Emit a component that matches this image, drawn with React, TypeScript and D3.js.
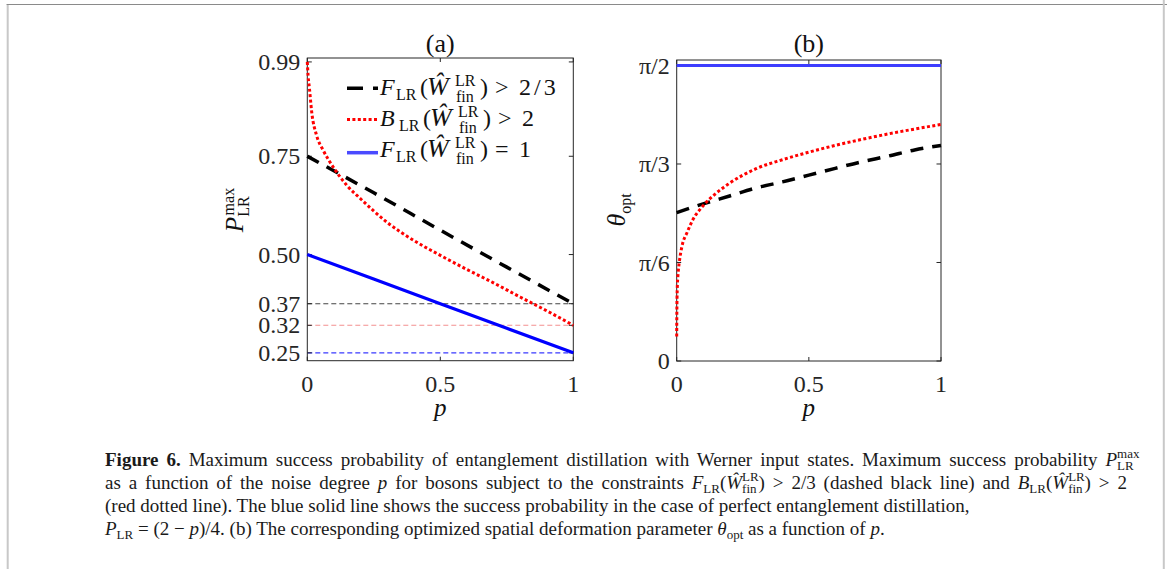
import React, { useEffect, useRef } from "react";
import * as d3 from "d3";

// ---------- data ----------
// Panel (a): maximum success probability vs p
const pBlackA = [0, 0.25, 0.5, 0.75, 1];
const fidelityA = [0.75, 0.657, 0.562, 0.468, 0.375];

const pRedA = [0, 0.003, 0.008, 0.0165, 0.035, 0.06, 0.1, 0.15, 0.2, 0.3, 0.4, 0.5, 0.6, 0.7, 0.8, 0.9, 1];
const bellA = [0.99, 0.955, 0.923, 0.863, 0.803, 0.765, 0.72, 0.675, 0.642, 0.582, 0.536, 0.498, 0.462, 0.428, 0.392, 0.357, 0.32];

const pBlueA = [0, 0.5, 1];
const perfectA = [0.5, 0.375, 0.25];

// Panel (b): optimal deformation angle vs p
const pBlackB = [0, 0.1, 0.2, 0.3, 0.4, 0.5, 0.6, 0.7, 0.8, 0.9, 1];
const fidelityB = [0.789, 0.835, 0.877, 0.92, 0.952, 0.988, 1.024, 1.059, 1.089, 1.122, 1.146];

const pRedB = [0, 0.0005, 0.002, 0.005, 0.01, 0.02, 0.04, 0.06, 0.1, 0.15, 0.2, 0.3, 0.4, 0.5, 0.6, 0.7, 0.8, 0.9, 1];
const bellB = [0.13, 0.25, 0.38, 0.46, 0.527, 0.61, 0.685, 0.748, 0.825, 0.893, 0.945, 1.022, 1.07, 1.11, 1.146, 1.178, 1.207, 1.233, 1.257];

const pBlueB = [0, 1];
const perfectB = [Math.PI / 2, Math.PI / 2];

// ticks
const xTicks = [0, 0.5, 1];
const xTickLabels = ["0", "0.5", "1"];
const yTicksA = [0.25, 0.32, 0.375, 0.5, 0.75, 0.99];
const yTickLabelsA = ["0.25", "0.32", "0.37", "0.50", "0.75", "0.99"];
const yTicksB = [0, Math.PI / 6, Math.PI / 3, Math.PI / 2];
const yTickLabelsB = ["0", "π/6", "π/3", "π/2"];
const refLevelsA = [0.375, 0.32, 0.25];
const refColorsA = ["#444444", "#f39090", "#3a3aff"];

const FONT = "'Liberation Serif', 'Times New Roman', serif";
const AX = "#262626";

const BLACK_DASH = "13,9";
const RED_DOT = "3,2.4";

export default function App() {
  const svgRef = useRef<SVGSVGElement>(null);

  const xA = d3.scaleLinear().domain([0, 1]).range([307.3, 573.3]);
  const yA = d3.scaleLinear().domain([0.23, 1.0]).range([360.7, 58]);
  const xB = d3.scaleLinear().domain([0, 1]).range([676.7, 941]);
  const yB = d3.scaleLinear().domain([0, 1.6]).range([361, 60]);

  const mk = (xs: number[], ys: number[], sx: any, sy: any) =>
    d3
      .line<number>()
      .x((_, i) => sx(xs[i]))
      .y((d) => sy(d))
      .curve(d3.curveMonotoneX)(ys) || "";

  useEffect(() => {
    if (!svgRef.current) return;
    d3.select(svgRef.current)
      .selectAll<SVGTextElement, unknown>("text[data-j]")
      .each(function () {
        const target = +(this.getAttribute("data-j") || 0);
        const bb = this.getBBox();
        const n = ((this.textContent || "").match(/ /g) || []).length;
        if (n > 0) {
          const ws = (target - (bb.x + bb.width)) / n;
          this.setAttribute("word-spacing", String(ws));
        }
      });
  }, []);

  const axesBox = (sx: any, sy: any, yTicks: number[], yLabels: string[]) => {
    const [x0, x1] = sx.range();
    const [y0, y1] = sy.range();
    return (
      <g>
        <rect x={x0} y={y1} width={x1 - x0} height={y0 - y1} fill="none" stroke={AX} strokeWidth={1} />
        {xTicks.map((t, i) => (
          <g key={"xt" + i}>
            <line x1={sx(t)} x2={sx(t)} y1={y0} y2={y0 - 4} stroke={AX} />
            <line x1={sx(t)} x2={sx(t)} y1={y1} y2={y1 + 4} stroke={AX} />
            <text x={sx(t)} y={392} textAnchor="middle" fontSize={24} fill={AX} fontFamily={FONT}>
              {xTickLabels[i]}
            </text>
          </g>
        ))}
        {yTicks.map((t, i) => (
          <g key={"yt" + i}>
            <line x1={x0} x2={x0 + 4.5} y1={sy(t)} y2={sy(t)} stroke={AX} />
            <line x1={x1} x2={x1 - 4.5} y1={sy(t)} y2={sy(t)} stroke={AX} />
            <text
              x={x0 - 7}
              y={sy(t)}
              dy="0.34em"
              textAnchor="end"
              fontSize={24}
              fill={AX}
              fontFamily={FONT}
            >
              {yLabels[i]}
            </text>
          </g>
        ))}
      </g>
    );
  };

  const sup = 16;
  const supFor = (x: number, base: number) => (
    <>
      <tspan x={x} y={base - 9} fontSize={sup}>LR</tspan>
      <tspan x={x + 1} y={base + 7} fontSize={sup}>fin</tspan>
    </>
  );

  const legendRows = [95, 126, 157];

  const legendRow = (base: number, letter: string, shift: number, rel: string, rhs: string) => (
    <text y={base} fontSize={24} fill="#111">
      <tspan x={380} fontStyle="italic">{letter}</tspan>
      <tspan x={396 + shift} y={base + 5} fontSize={sup}>LR</tspan>
      <tspan x={420 + shift} y={base}>(</tspan>
      <tspan x={427 + shift} fontStyle="italic" fontSize={26}>Ŵ</tspan>
      {supFor(455 + shift, base)}
      <tspan x={480 + shift} y={base}>)</tspan>
      <tspan x={495 + shift}>{rel}</tspan>
      <tspan x={519 + shift} letterSpacing={rhs.length > 1 ? 3 : 0}>{rhs}</tspan>
    </text>
  );

  return (
    <svg
      ref={svgRef}
      width={1167}
      height={569}
      style={{ position: "absolute", left: 0, top: 0, background: "#fff" }}
      fontFamily={FONT}
    >
      <rect x={0} y={0} width={1167} height={569} fill="#fff" />
      {/* figure frame */}
      <line x1={6.5} x2={1167} y1={4.5} y2={4.5} stroke="#8a8a8a" strokeWidth={1} />
      <line x1={7.7} x2={7.7} y1={5} y2={569} stroke="#c8c8c8" strokeWidth={2} />
      <line x1={1163.8} x2={1163.8} y1={0} y2={569} stroke="#c8c8c8" strokeWidth={2} />

      {/* ---------- panel (a) ---------- */}
      <text x={xA(0.5)} y={52} textAnchor="middle" fontSize={26} fill="#111">(a)</text>
      {refLevelsA.map((v, i) => (
        <line
          key={"ref" + i}
          x1={xA(0)}
          x2={xA(1)}
          y1={yA(v)}
          y2={yA(v)}
          stroke={refColorsA[i]}
          strokeWidth={1.1}
          strokeDasharray="5,3"
        />
      ))}
      {axesBox(xA, yA, yTicksA, yTickLabelsA)}
      <path d={mk(pBlueA, perfectA, xA, yA)} fill="none" stroke="#0000ff" strokeWidth={3.2} />
      <path d={mk(pBlackA, fidelityA, xA, yA)} fill="none" stroke="#000" strokeWidth={3.5} strokeDasharray={BLACK_DASH} />
      <path d={mk(pRedA, bellA, xA, yA)} fill="none" stroke="#ff0000" strokeWidth={3} strokeDasharray={RED_DOT} />

      {/* legend */}
      <line x1={347} x2={378} y1={88.3} y2={88.3} stroke="#000" strokeWidth={3.5} strokeDasharray="16,10" />
      <line x1={347} x2={378} y1={119.5} y2={119.5} stroke="#ff0000" strokeWidth={3} strokeDasharray={RED_DOT} />
      <line x1={347} x2={378} y1={152.7} y2={152.7} stroke="#4a4aff" strokeWidth={3.5} />
      {legendRow(legendRows[0], "F", 0, ">", "2/3")}
      {legendRow(legendRows[1], "B", 3, ">", "2")}
      {legendRow(legendRows[2], "F", 0, "=", "1")}

      {/* axis labels (a) */}
      <text transform="translate(243,210) rotate(-90)" textAnchor="middle" fontSize={25} fill="#111">
        <tspan fontStyle="italic">P</tspan>
        <tspan fontSize={sup} dy={6}>LR</tspan>
        <tspan fontSize={sup} dx={-19} dy={-15}>max</tspan>
      </text>
      <text x={xA(0.5)} y={416} textAnchor="middle" fontSize={25} fontStyle="italic" fill="#111">p</text>

      {/* ---------- panel (b) ---------- */}
      <text x={xB(0.5)} y={52} textAnchor="middle" fontSize={26} fill="#111">(b)</text>
      {axesBox(xB, yB, yTicksB, yTickLabelsB)}
      <path d={mk(pBlueB, perfectB, xB, yB)} fill="none" stroke="#3d3dff" strokeWidth={3.2} />
      <path d={mk(pBlackB, fidelityB, xB, yB)} fill="none" stroke="#000" strokeWidth={3.5} strokeDasharray={BLACK_DASH} />
      <path d={mk(pRedB, bellB, xB, yB)} fill="none" stroke="#ff0000" strokeWidth={3} strokeDasharray={RED_DOT} />

      <text transform="translate(625,210) rotate(-90)" textAnchor="middle" fontSize={26} fill="#111">
        <tspan fontStyle="italic">θ</tspan>
        <tspan fontSize={sup} dy={6}>opt</tspan>
      </text>
      <text x={xB(0.5)} y={416} textAnchor="middle" fontSize={25} fontStyle="italic" fill="#111">p</text>

      {/* ---------- caption ---------- */}
      <g fontSize={19} fill="#1a1a1a">
        <text x={105} y={466} data-j={1140}>
          <tspan fontWeight="bold">Figure 6.</tspan>
          <tspan>{" Maximum success probability of entanglement distillation with Werner input states. Maximum success probability "}</tspan>
          <tspan fontStyle="italic">P</tspan>
          <tspan fontSize={13} dy={-8}>max</tspan>
          <tspan fontSize={13} dx={-22.4} dy={12}>LR</tspan>
        </text>
        <text x={105} y={489} data-j={1127}>
          <tspan>{"as a function of the noise degree "}</tspan>
          <tspan fontStyle="italic">p</tspan>
          <tspan>{" for bosons subject to the constraints "}</tspan>
          <tspan fontStyle="italic">F</tspan>
          <tspan fontSize={13} dy={4}>LR</tspan>
          <tspan dy={-4}>(</tspan>
          <tspan fontStyle="italic">Ŵ</tspan>
          <tspan fontSize={13} dy={-8}>LR</tspan>
          <tspan fontSize={13} dx={-16.6} dy={12}>fin</tspan>
          <tspan dx={2} dy={-4}>{") > 2/3 (dashed black line) and "}</tspan>
          <tspan fontStyle="italic">B</tspan>
          <tspan fontSize={13} dy={4}>LR</tspan>
          <tspan dy={-4}>(</tspan>
          <tspan fontStyle="italic">Ŵ</tspan>
          <tspan fontSize={13} dy={-8}>LR</tspan>
          <tspan fontSize={13} dx={-16.6} dy={12}>fin</tspan>
          <tspan dx={2} dy={-4}>{") > 2"}</tspan>
        </text>
        <text x={105} y={512}>
          (red dotted line). The blue solid line shows the success probability in the case of perfect entanglement distillation,
        </text>
        <text x={105} y={535}>
          <tspan fontStyle="italic">P</tspan>
          <tspan fontSize={13} dy={4}>LR</tspan>
          <tspan dy={-4}>{" = (2 − "}</tspan>
          <tspan fontStyle="italic">p</tspan>
          <tspan>{")/4. (b) The corresponding optimized spatial deformation parameter "}</tspan>
          <tspan fontStyle="italic">θ</tspan>
          <tspan fontSize={13} dy={4}>opt</tspan>
          <tspan dy={-4}>{" as a function of "}</tspan>
          <tspan fontStyle="italic">p</tspan>
          <tspan>.</tspan>
        </text>
      </g>
    </svg>
  );
}
